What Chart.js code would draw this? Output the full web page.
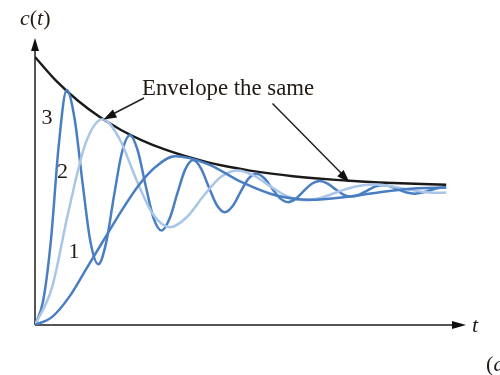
<!DOCTYPE html>
<html>
<head>
<meta charset="utf-8">
<script src="https://cdn.jsdelivr.net/npm/chart.js@4.4.1/dist/chart.umd.min.js"></script>
<style>
  body { margin: 0; background: #fff; }
  canvas { display: block; }
</style>
</head>
<body>
<canvas id="myChart" width="500" height="375"></canvas>
<script>
// values (t in arbitrary time units, c(t) with final value 1)
const t3 = [0, 0.184, 0.368, 0.552, 0.736, 0.920, 1.103, 1.287, 1.471, 1.655, 1.839, 2.023, 2.207,
  2.391, 2.575, 2.759, 2.942, 3.126, 3.310, 3.494, 3.678, 3.862, 4.046, 4.230, 4.414, 4.598, 4.781,
  4.965, 5.149, 5.333, 5.517, 5.701, 5.885, 6.069, 6.253, 6.437, 6.620, 6.804, 6.988, 7.172, 7.356,
  7.540, 7.724, 7.908, 8.092, 8.276, 8.459, 8.643, 8.827, 9.011, 9.195, 9.379, 9.563];
const c3 = [0, 0.17, 0.62, 1.33, 1.74, 1.53, 1.06, 0.62, 0.45, 0.61, 0.96, 1.28, 1.405,
  1.29, 1.03, 0.79, 0.70, 0.785, 0.975, 1.153, 1.222, 1.159, 1.018, 0.887, 0.836, 0.882, 0.986,
  1.084, 1.121, 1.087, 1.010, 0.938, 0.910, 0.936, 0.993, 1.046, 1.066, 1.048, 1.005, 0.966, 0.951,
  0.965, 0.996, 1.025, 1.036, 1.026, 1.003, 0.981, 0.973, 0.981, 0.998, 1.014, 1.020];

const t2 = [0, 0.393, 0.785, 1.178, 1.571, 1.963, 2.356, 2.749, 3.142, 3.534, 3.927, 4.320, 4.712,
  5.105, 5.498, 5.890, 6.283, 6.676, 7.069, 7.461, 7.854, 8.247, 8.639, 9.032, 9.425, 9.563];
const c2 = [0, 0.275, 0.851, 1.347, 1.525, 1.381, 1.078, 0.818, 0.724, 0.800, 0.959, 1.096, 1.145,
  1.105, 1.022, 0.950, 0.924, 0.945, 0.989, 1.026, 1.040, 1.029, 1.006, 0.986, 0.979, 0.981];

const t1 = [0, 0.4, 0.8, 1.2, 1.6, 2.0, 2.4, 2.8, 3.25, 4.007, 4.808, 5.610, 6.411, 7.213, 8.014, 8.815, 9.563];
const c1 = [0, 0.06, 0.21, 0.42, 0.63, 0.84, 1.03, 1.17, 1.25, 1.194, 1.058, 0.959, 0.928, 0.948, 0.984, 1.011, 1.018];

const tEnv = [0, 0.5, 1, 1.5, 2, 2.5, 3, 3.5, 4, 4.5, 5, 5.5, 6, 6.5, 7, 7.5, 8, 8.5, 9, 9.563];
const cEnv = [1.985, 1.806, 1.661, 1.542, 1.445, 1.366, 1.302, 1.250, 1.207, 1.172, 1.144, 1.121,
  1.102, 1.087, 1.075, 1.065, 1.056, 1.050, 1.044, 1.039];

const curveLabels = ['1', '2', '3'];

function pts(ts, cs) {
  return ts.map((t, i) => ({ x: t, y: cs[i] }));
}

function arrowHead(ctx, x0, y0, x1, y1, len, half) {
  const a = Math.atan2(y1 - y0, x1 - x0);
  ctx.beginPath();
  ctx.moveTo(x1, y1);
  ctx.lineTo(x1 - len * Math.cos(a) + half * Math.sin(a), y1 - len * Math.sin(a) - half * Math.cos(a));
  ctx.lineTo(x1 - len * Math.cos(a) - half * Math.sin(a), y1 - len * Math.sin(a) + half * Math.cos(a));
  ctx.closePath();
  ctx.fill();
}

const decor = {
  id: 'decor',
  beforeDatasetsDraw(chart) {
    const ctx = chart.ctx;
    const x0 = chart.scales.x.getPixelForValue(0);
    const y0 = chart.scales.y.getPixelForValue(0);
    ctx.save();
    ctx.strokeStyle = '#555';
    ctx.fillStyle = '#111';
    ctx.lineWidth = 2;
    ctx.beginPath();
    ctx.moveTo(x0, y0);
    ctx.lineTo(x0, 48);
    ctx.moveTo(x0, y0);
    ctx.lineTo(455, y0);
    ctx.stroke();
    arrowHead(ctx, x0, y0, x0, 38, 13, 4);
    arrowHead(ctx, x0, y0, 466, y0, 14, 4);
    ctx.restore();
  },
  afterDatasetsDraw(chart) {
    const ctx = chart.ctx;
    ctx.save();
    ctx.fillStyle = '#231a14';
    ctx.textBaseline = 'alphabetic';
    ctx.textAlign = 'left';
    // axis titles
    ctx.font = 'italic 22px "Liberation Serif"';
    ctx.fillText('c', 20, 25);
    let x = 20 + ctx.measureText('c').width;
    ctx.font = '22px "Liberation Serif"';
    ctx.fillText('(', x, 25);
    x += ctx.measureText('(').width;
    ctx.font = 'italic 22px "Liberation Serif"';
    ctx.fillText('t', x, 25);
    x += ctx.measureText('t').width;
    ctx.font = '22px "Liberation Serif"';
    ctx.fillText(')', x, 25);

    ctx.font = 'italic 22px "Liberation Serif"';
    ctx.fillText('t', 472, 332);

    ctx.font = '22px "Liberation Serif"';
    ctx.fillText('(', 486, 371);
    ctx.font = 'italic 22px "Liberation Serif"';
    ctx.fillText('a', 486 + 7.5, 371);

    // curve numbers
    ctx.font = '22px "Liberation Serif"';
    ctx.textAlign = 'center';
    ctx.fillText(curveLabels[2], 47, 124);
    ctx.fillText(curveLabels[1], 62.5, 178);
    ctx.fillText(curveLabels[0], 74, 258);

    ctx.textAlign = 'left';
    ctx.font = '22.8px "Liberation Serif"';
    ctx.fillText('Envelope the same', 142, 95);

    // pointers to the envelope
    ctx.strokeStyle = '#222';
    ctx.fillStyle = '#111';
    ctx.lineWidth = 1.5;
    ctx.beginPath();
    ctx.moveTo(144, 98);
    ctx.lineTo(111, 115);
    ctx.moveTo(272.5, 103.5);
    ctx.lineTo(343, 175);
    ctx.stroke();
    arrowHead(ctx, 144, 98, 103.5, 119.5, 13, 4.5);
    arrowHead(ctx, 272.5, 103.5, 349.5, 182.5, 13, 4.5);
    ctx.restore();
  }
};

const ctx = document.getElementById('myChart');
new Chart(ctx, {
  type: 'line',
  data: {
    datasets: [
      { label: '1', data: pts(t1, c1), borderColor: '#4a7ec2', borderWidth: 2.5 },
      { label: '2', data: pts(t2, c2), borderColor: '#a9c5e8', borderWidth: 2.5 },
      { label: '3', data: pts(t3, c3), borderColor: '#4a7ec2', borderWidth: 2.5 },
      { label: 'Envelope', data: pts(tEnv, cEnv), borderColor: '#1a1a1a', borderWidth: 2.4 }
    ]
  },
  options: {
    responsive: false,
    animation: false,
    layout: { padding: { left: 35, right: 35, top: 38, bottom: 50 } },
    elements: {
      point: { radius: 0 },
      line: { cubicInterpolationMode: 'monotone', fill: false }
    },
    scales: {
      x: { type: 'linear', min: 0, max: 10, display: false },
      y: { type: 'linear', min: 0, max: 2.126, display: false }
    },
    plugins: { legend: { display: false }, tooltip: { enabled: false } }
  },
  plugins: [decor]
});
</script>
</body>
</html>
